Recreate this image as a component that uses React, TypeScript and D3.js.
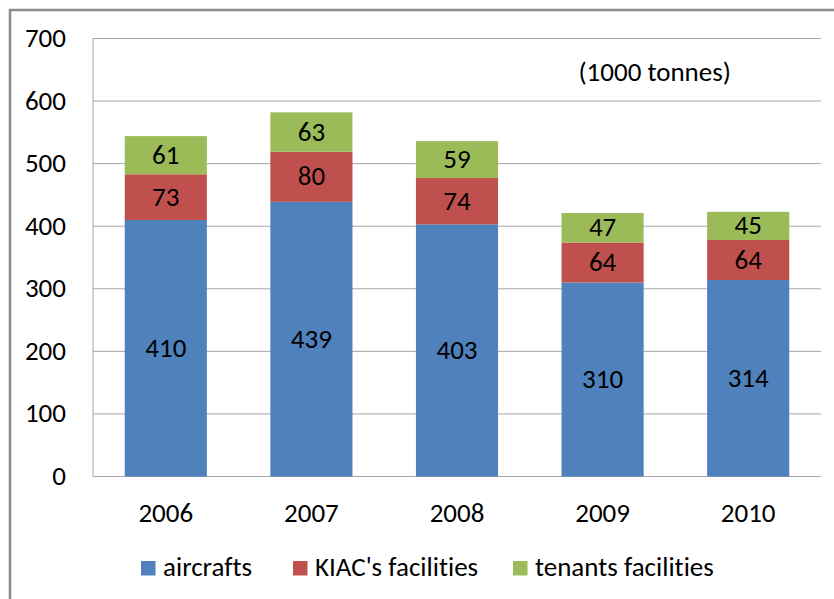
import React, { useRef, useEffect } from "react"
import * as d3 from "d3"

const years = ["2006", "2007", "2008", "2009", "2010"]
const aircrafts = [410, 439, 403, 310, 314]
const kiacFacilities = [73, 80, 74, 64, 64]
const tenantsFacilities = [61, 63, 59, 47, 45]
const seriesNames = ["aircrafts", "KIAC's facilities", "tenants facilities"]
const seriesColors = ["#4F81BD", "#C0504D", "#9BBB59"]
const yTicks = [0, 100, 200, 300, 400, 500, 600, 700]

const FONT = "Carlito, Calibri, Lato, sans-serif"
const FS = 27

const App: React.FC = () => {
  const svgRef = useRef<SVGSVGElement | null>(null)
  const width = 834
  const height = 599

  useEffect(() => {
    if (!svgRef.current) return
    const svg = d3.select(svgRef.current)
    svg.selectAll("*").remove()

    // outer chart frame
    svg.append("rect")
      .attr("x", 10).attr("y", 10)
      .attr("width", 840).attr("height", 620)
      .attr("fill", "white")
      .attr("stroke", "#8c8c8c").attr("stroke-width", 2.5)

    const plot = { left: 93, right: 821, top: 38.5, bottom: 476.5 }

    const x = d3.scaleBand()
      .domain(years)
      .range([plot.left, plot.right])
      .paddingInner(0.436)
      .paddingOuter(0.218)

    const y = d3.scaleLinear().domain([0, 700]).range([plot.bottom, plot.top])

    const txt = (sel: any) =>
      sel.attr("font-family", FONT)
        .attr("font-size", FS)
        .style("font-variant-ligatures", "none")

    // gridlines
    svg.append("g")
      .selectAll("line")
      .data(yTicks.filter((t) => t > 0))
      .enter()
      .append("line")
      .attr("x1", plot.left).attr("x2", plot.right)
      .attr("y1", (d) => y(d)).attr("y2", (d) => y(d))
      .attr("stroke", "#a6a6a6").attr("stroke-width", 1)

    // axis lines
    svg.append("line")
      .attr("x1", plot.left).attr("x2", plot.left)
      .attr("y1", plot.top).attr("y2", plot.bottom)
      .attr("stroke", "#a6a6a6")
    svg.append("line")
      .attr("x1", plot.left).attr("x2", plot.right)
      .attr("y1", plot.bottom).attr("y2", plot.bottom)
      .attr("stroke", "#a6a6a6")

    // y labels
    svg.append("g")
      .selectAll("text")
      .data(yTicks)
      .enter()
      .append("text")
      .attr("x", 66)
      .attr("y", (d) => y(d) + 8.5)
      .attr("text-anchor", "end")
      .call(txt)
      .text((d) => d)

    // x labels
    svg.append("g")
      .selectAll("text")
      .data(years)
      .enter()
      .append("text")
      .attr("x", (d) => (x(d) || 0) + x.bandwidth() / 2)
      .attr("y", 522)
      .attr("text-anchor", "middle")
      .call(txt)
      .text((d) => d)

    const table = years.map((yr, i) => ({
      year: yr,
      s0: aircrafts[i],
      s1: kiacFacilities[i],
      s2: tenantsFacilities[i],
    }))
    const stack = d3.stack<any>().keys(["s0", "s1", "s2"])(table)

    stack.forEach((layer, li) => {
      const g = svg.append("g")
      g.selectAll("rect")
        .data(layer)
        .enter()
        .append("rect")
        .attr("x", (d) => x(d.data.year) || 0)
        .attr("y", (d) => y(d[1]))
        .attr("width", x.bandwidth())
        .attr("height", (d) => y(d[0]) - y(d[1]))
        .attr("fill", seriesColors[li])
      g.selectAll("text")
        .data(layer)
        .enter()
        .append("text")
        .attr("x", (d) => (x(d.data.year) || 0) + x.bandwidth() / 2)
        .attr("y", (d) => (y(d[0]) + y(d[1])) / 2 + 8.5)
        .attr("text-anchor", "middle")
        .call(txt)
        .attr("fill", "#000")
        .text((d) => d[1] - d[0])
    })

    // unit note
    svg.append("text")
      .attr("x", 731).attr("y", 81)
      .attr("text-anchor", "end")
      .call(txt)
      .text("(1000 tonnes)")

    // legend
    const legendX = [141, 293, 513]
    const lg = svg.append("g")
    seriesNames.forEach((name, i) => {
      lg.append("rect")
        .attr("x", legendX[i]).attr("y", 561)
        .attr("width", 14.5).attr("height", 14.5)
        .attr("fill", seriesColors[i])
      lg.append("text")
        .attr("x", legendX[i] + 22).attr("y", 576)
        .call(txt)
        .text(name)
    })
  }, [])

  return (
    <svg
      ref={svgRef}
      width={width}
      height={height}
      style={{ position: "absolute", left: 0, top: 0 }}
    ></svg>
  )
}

export default App
